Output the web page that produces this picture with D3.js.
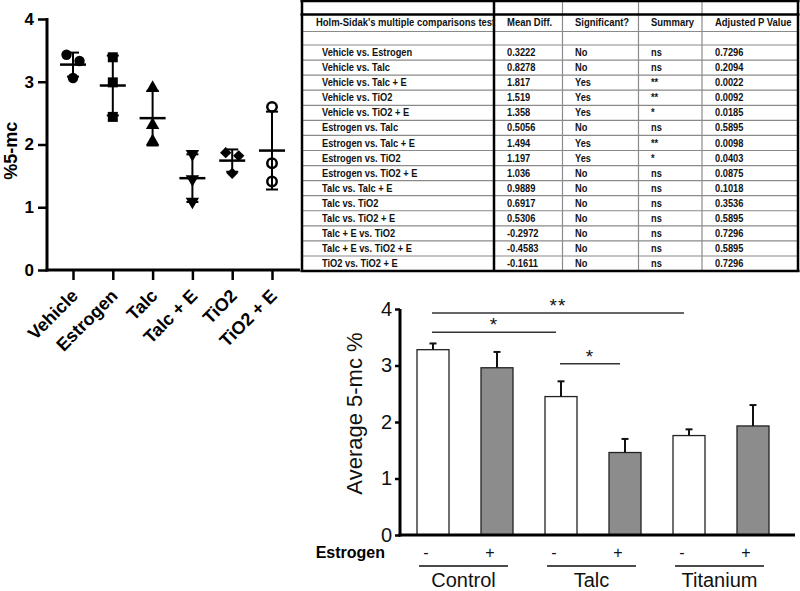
<!DOCTYPE html>
<html><head><meta charset="utf-8">
<script src="https://cdn.jsdelivr.net/npm/d3@7"></script>
<style>
html,body{margin:0;padding:0;background:#fff;}
svg{display:block;font-family:"Liberation Sans",Arial,sans-serif;}
</style></head>
<body>
<svg id="c" width="800" height="591"></svg>
<script>
// ---------- DATA ----------
// Left dot plot (%5-mc, individual replicates)
const dotGroups = ["Vehicle", "Estrogen", "Talc", "Talc + E", "TiO2", "TiO2 + E"];
const dotValues = [
  [3.43, 3.33, 3.06],
  [3.39, 2.99, 2.44],
  [2.90, 2.31, 2.05],
  [1.85, 1.45, 1.09],
  [1.87, 1.82, 1.54],
  [2.60, 1.70, 1.41]
];
const dotShapes = ["circle", "square", "triangle", "triangleDown", "diamond", "openCircle"];
const dotTicks = [0, 1, 2, 3, 4];

// Table: Holm-Sidak's multiple comparisons test
const tableHeader = ["Holm-Sidak's multiple comparisons test", "Mean Diff.", "Significant?", "Summary", "Adjusted P Value"];
const comparisons = ["Vehicle vs. Estrogen","Vehicle vs. Talc","Vehicle vs. Talc + E","Vehicle vs. TiO2","Vehicle vs. TiO2 + E",
  "Estrogen vs. Talc","Estrogen vs. Talc + E","Estrogen vs. TiO2","Estrogen vs. TiO2 + E","Talc vs. Talc + E",
  "Talc vs. TiO2","Talc vs. TiO2 + E","Talc + E vs. TiO2","Talc + E vs. TiO2 + E","TiO2 vs. TiO2 + E"];
const meanDiff = ["0.3222","0.8278","1.817","1.519","1.358","0.5056","1.494","1.197","1.036","0.9889","0.6917","0.5306","-0.2972","-0.4583","-0.1611"];
const significant = ["No","No","Yes","Yes","Yes","No","Yes","Yes","No","No","No","No","No","No","No"];
const summary = ["ns","ns","**","**","*","ns","**","*","ns","ns","ns","ns","ns","ns","ns"];
const adjP = ["0.7296","0.2094","0.0022","0.0092","0.0185","0.5895","0.0098","0.0403","0.0875","0.1018","0.3536","0.5895","0.7296","0.5895","0.7296"];

// Bottom bar chart (Average 5-mc %)
const barGroups = ["Control", "Talc", "Titanium"];
const estrogenLevels = ["-", "+"];
const barMeans = [3.28, 2.96, 2.45, 1.46, 1.76, 1.93];
const barErrors = [0.11, 0.28, 0.27, 0.24, 0.11, 0.37];
const barTicks = [0, 1, 2, 3, 4];
const brackets = [
  {from: 0, to: 4, label: "**", level: 3.93},
  {from: 0, to: 2, label: "*", level: 3.59},
  {from: 2, to: 3, label: "*", level: 3.03}
];

// ---------- DRAW ----------
const svg = d3.select("#c");
const FONT = '"Liberation Sans",Arial,sans-serif';

function squeeze(sel, factor) {
  sel.each(function () {
    const w = this.getComputedTextLength();
    this.setAttribute("textLength", (w * factor).toFixed(1));
    this.setAttribute("lengthAdjust", "spacingAndGlyphs");
  });
}

// ===== Left dot plot =====
const L = svg.append("g");
const xL = d3.scalePoint().domain(dotGroups).range([73, 272]);
const yL = d3.scaleLinear().domain([0, 4]).range([270, 19]);

const yAxisL = d3.axisLeft(yL).tickValues(dotTicks).tickSize(9).tickPadding(4).tickFormat(d3.format("d"));
const gyL = L.append("g").attr("transform", "translate(47,0)").call(yAxisL);
gyL.select(".domain").attr("stroke-width", 3).attr("d", `M0,${yL(4)-1}V${yL(0)+1.5}`);
gyL.selectAll(".tick line").attr("stroke-width", 2.5);
gyL.selectAll(".tick text").attr("font-size", 17).attr("font-weight", "bold").attr("fill", "#000").attr("font-family", FONT);

const xAxisL = d3.axisBottom(xL).tickSize(10).tickFormat("");
const gxL = L.append("g").attr("transform", "translate(0,270)").call(xAxisL);
gxL.select(".domain").attr("stroke-width", 3).attr("d", "M45.5,0H300");
gxL.selectAll(".tick line").attr("stroke-width", 2.5);

L.selectAll("text.cat").data(dotGroups).join("text")
  .attr("class", "cat")
  .attr("transform", d => `translate(${xL(d) + 6},${297}) rotate(-45)`)
  .attr("text-anchor", "end")
  .attr("font-size", 18).attr("font-weight", "bold").attr("font-family", FONT)
  .text(d => d);

L.append("text")
  .attr("transform", `translate(17,${yL(1.9)}) rotate(-90)`)
  .attr("text-anchor", "middle")
  .attr("font-size", 18).attr("font-weight", "bold").attr("font-family", FONT)
  .text("%5-mc");

function symPath(shape) {
  switch (shape) {
    case "circle": return d3.symbol(d3.symbolCircle, 85)();
    case "square": return d3.symbol(d3.symbolSquare, 100)();
    case "triangle": return d3.symbol(d3.symbolTriangle, 78)();
    case "triangleDown": return d3.symbol(d3.symbolTriangle, 78)();
    case "diamond": return d3.symbol(d3.symbolSquare, 64)();
    case "openCircle": return d3.symbol(d3.symbolCircle, 70)();
  }
}
function symRot(shape) {
  if (shape === "triangleDown") return 180;
  if (shape === "diamond") return 45;
  return 0;
}

dotGroups.forEach((g, i) => {
  const vals = dotValues[i];
  const m = d3.mean(vals), sd = d3.deviation(vals);
  const cx = xL(g);
  const grp = L.append("g");
  // jitter: spread points that overlap in y
  const pixY = vals.map(v => yL(v));
  const offs = vals.map(() => 0);
  for (let a = 0; a < vals.length; a++) for (let b = a + 1; b < vals.length; b++) {
    if (Math.abs(pixY[a] - pixY[b]) < 9 && offs[a] === 0 && offs[b] === 0) { offs[a] = -6.5; offs[b] = 6.5; }
  }
  const shape = dotShapes[i];
  grp.selectAll("path.pt").data(vals).join("path")
    .attr("class", "pt")
    .attr("d", symPath(shape))
    .attr("transform", (v, k) => `translate(${cx + offs[k]},${yL(v)}) rotate(${symRot(shape)})`)
    .attr("fill", shape === "openCircle" ? "#fff" : "#000")
    .attr("stroke", "#000")
    .attr("stroke-width", shape === "openCircle" ? 2.5 : 0);
  // SD bar
  grp.append("line").attr("x1", cx).attr("x2", cx).attr("y1", yL(m + sd)).attr("y2", yL(m - sd))
    .attr("stroke", "#000").attr("stroke-width", 2);
  [m + sd, m - sd].forEach(v => grp.append("line").attr("x1", cx - 6).attr("x2", cx + 6)
    .attr("y1", yL(v)).attr("y2", yL(v)).attr("stroke", "#000").attr("stroke-width", 2));
  grp.append("line").attr("x1", cx - 13).attr("x2", cx + 13).attr("y1", yL(m)).attr("y2", yL(m))
    .attr("stroke", "#000").attr("stroke-width", 2.5);
});

// ===== Table =====
const T = svg.append("g");
const colX = [302, 494, 562.5, 638.5, 702, 798];
const textX = [316, 507, 575, 651, 715];
const rowTop = 45, rowH = 15.07;
const nRows = comparisons.length;
const tBottom = rowTop + rowH * nRows;
// light row lines
const hLines = [31.5].concat(d3.range(nRows).map(k => rowTop + rowH * k));
T.selectAll("line.h").data(hLines).join("line").attr("class", "h")
  .attr("x1", colX[0]).attr("x2", colX[5]).attr("y1", d => d).attr("y2", d => d)
  .attr("stroke", "#8a8a8a").attr("stroke-width", 1.2);
// thin verticals
T.selectAll("line.v").data([colX[2], colX[3], colX[4]]).join("line").attr("class", "v")
  .attr("x1", d => d).attr("x2", d => d).attr("y1", 0).attr("y2", tBottom)
  .attr("stroke", "#8a8a8a").attr("stroke-width", 1.2);
// thick lines
[[colX[0], 1, colX[5], 1], [colX[0], 14.5, colX[5], 14.5], [colX[0], tBottom, colX[5], tBottom]].forEach(p =>
  T.append("line").attr("x1", p[0] - 1.5).attr("y1", p[1]).attr("x2", p[2] + 1.5).attr("y2", p[3]).attr("stroke", "#000").attr("stroke-width", 2.5));
[colX[0], colX[1], colX[5]].forEach(x =>
  T.append("line").attr("x1", x).attr("x2", x).attr("y1", 0).attr("y2", tBottom + 1).attr("stroke", "#000").attr("stroke-width", 2.5));

const hd = T.selectAll("text.hd").data(tableHeader).join("text").attr("class", "hd")
  .attr("x", (d, k) => textX[k]).attr("y", 23).attr("dominant-baseline", "middle")
  .attr("font-size", 10.5).attr("font-weight", "bold").attr("font-family", FONT).attr("fill", "#111")
  .text(d => d);
squeeze(hd, 0.9);
const cols = [comparisons, meanDiff, significant, summary, adjP];
cols.forEach((col, k) => {
  const t = T.selectAll(`text.c${k}`).data(col).join("text").attr("class", `c${k}`)
    .attr("x", textX[k] + (k === 0 ? 6 : 0))
    .attr("y", (d, r) => rowTop + rowH * r + rowH / 2 + 0.5)
    .attr("dominant-baseline", "middle")
    .attr("font-size", 11.6).attr("font-weight", "bold").attr("font-family", FONT).attr("fill", "#111")
    .text(d => d);
  squeeze(t, 0.8);
});

// ===== Bottom bar chart =====
const B = svg.append("g");
const barKeys = d3.range(barMeans.length);
const xB = d3.scaleBand().domain(barKeys).range([401, 785]).paddingInner(0.5).paddingOuter(0.25);
const yB = d3.scaleLinear().domain([0, 4]).range([535, 309]);
const bw = xB.bandwidth();

B.selectAll("rect.bar").data(barMeans).join("rect").attr("class", "bar")
  .attr("x", (d, k) => xB(k)).attr("width", bw)
  .attr("y", d => yB(d)).attr("height", d => yB(0) - yB(d))
  .attr("fill", (d, k) => k % 2 === 0 ? "#fff" : "#8c8c8c")
  .attr("stroke", "#222").attr("stroke-width", 1.3);

barMeans.forEach((m, k) => {
  const cx = xB(k) + bw / 2;
  B.append("line").attr("x1", cx).attr("x2", cx).attr("y1", yB(m)).attr("y2", yB(m + barErrors[k]))
    .attr("stroke", "#111").attr("stroke-width", 2);
  B.append("line").attr("x1", cx - 3.5).attr("x2", cx + 3.5).attr("y1", yB(m + barErrors[k])).attr("y2", yB(m + barErrors[k]))
    .attr("stroke", "#111").attr("stroke-width", 2);
});

const yAxisB = d3.axisLeft(yB).tickValues(barTicks).tickSize(5).tickPadding(3).tickFormat(d3.format("d"));
const gyB = B.append("g").attr("transform", "translate(400,0)").call(yAxisB);
gyB.select(".domain").attr("stroke-width", 3).attr("d", `M0,${yB(4)}V${yB(0) + 1.5}`);
gyB.selectAll(".tick line").attr("stroke-width", 2.5);
gyB.selectAll(".tick text").attr("font-size", 20).attr("fill", "#111").attr("font-family", FONT);
B.append("line").attr("x1", 398.5).attr("x2", 795).attr("y1", yB(0)).attr("y2", yB(0)).attr("stroke", "#000").attr("stroke-width", 3);

B.append("text")
  .attr("transform", `translate(362,${yB(2.15)}) rotate(-90)`)
  .attr("text-anchor", "middle").attr("font-size", 22).attr("font-family", FONT).attr("fill", "#111")
  .text("Average 5-mc %");

// brackets
brackets.forEach(br => {
  const x1 = xB(br.from) + bw / 2 - 1, x2 = xB(br.to) + bw / 2 - 5;
  const y = yB(br.level);
  B.append("line").attr("x1", x1).attr("x2", x2).attr("y1", y).attr("y2", y).attr("stroke", "#333").attr("stroke-width", 1.5);
  B.append("text").attr("x", (x1 + x2) / 2).attr("y", y - 1)
    .attr("text-anchor", "middle").attr("font-size", 19).attr("font-family", FONT).attr("fill", "#111")
    .attr("letter-spacing", 1).text(br.label);
});

// Estrogen row
B.append("text").attr("x", 385).attr("y", 558).attr("text-anchor", "end")
  .attr("font-size", 16).attr("font-weight", "bold").attr("font-family", FONT).text("Estrogen");
barKeys.forEach(k => {
  B.append("text").attr("x", xB(k) + bw / 2 - 7).attr("y", 558).attr("text-anchor", "middle")
    .attr("font-size", 16).attr("font-family", FONT).attr("fill", "#111")
    .text(estrogenLevels[k % 2]);
});
barGroups.forEach((g, gi) => {
  const a = xB(gi * 2) + 2, b = xB(gi * 2 + 1) + bw - 5;
  B.append("line").attr("x1", a).attr("x2", b).attr("y1", 566).attr("y2", 566).attr("stroke", "#111").attr("stroke-width", 1.5);
  B.append("text").attr("x", (a + b) / 2).attr("y", 587).attr("text-anchor", "middle")
    .attr("font-size", 20).attr("font-family", FONT).attr("fill", "#111").text(g);
});
</script>
</body></html>
